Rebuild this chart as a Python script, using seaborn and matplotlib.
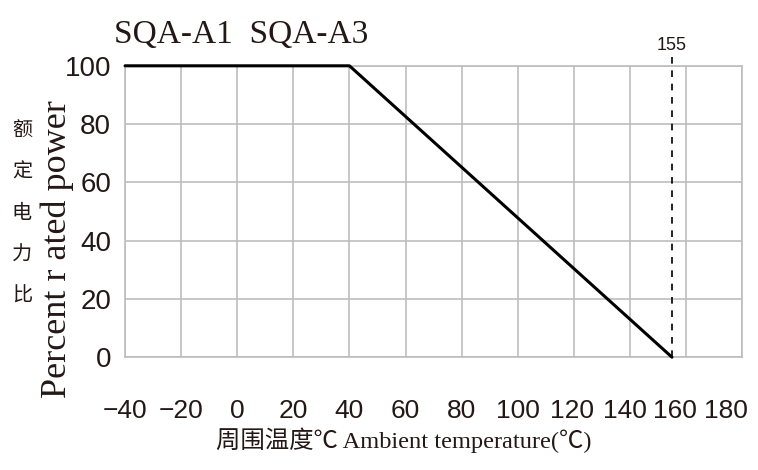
import numpy as np
import pandas as pd
import matplotlib
matplotlib.use("Agg")
import matplotlib.pyplot as plt
import matplotlib.transforms as mtransforms
import seaborn as sns

# derating curve
temps = [-40, 40, 155]
power = [100, 100, 0]
cutoff = 155
x_ticks = [-40, -20, 0, 20, 40, 60, 80, 100, 120, 140, 160, 180]
y_ticks = [0, 20, 40, 60, 80, 100]

sns.set_style("white")
plt.rcParams['font.family'] = ['Liberation Sans', 'Noto Sans CJK SC', 'DejaVu Sans']

df = pd.DataFrame({'temp': temps, 'power': power})

fig = plt.figure(figsize=(7.58, 4.70), dpi=100)
ax = fig.add_axes([0.165, 0.240, 0.814, 0.620])

sns.lineplot(data=df, x='temp', y='power', ax=ax, color='black', linewidth=2.2)
for ln in ax.lines:
    ln.set_clip_on(False)
    ln.set_zorder(5)
ax.plot([cutoff, cutoff], [0, 103], color='black', linestyle=(0, (4, 4)), linewidth=1.2,
        clip_on=False, zorder=4)
ax.text(cutoff, 104, str(cutoff), ha='center', va='bottom', fontsize=13, color='#231815')

ax.set_xlim(-40, 180)
ax.set_ylim(0, 100)
ax.set_xticks(x_ticks)
ax.set_yticks(y_ticks)
ax.grid(True, color='#bdbdbd', linewidth=1.2)
for s in ax.spines.values():
    s.set_color('#bdbdbd')
    s.set_linewidth(1.2)
ax.tick_params(axis='x', length=0, pad=30, labelsize=19, colors='#231815')
ax.tick_params(axis='y', length=0, pad=10, labelsize=20, colors='#231815')
ax.set_xlabel('')
ax.set_ylabel('')

# the right-most labels sit squeezed to the left in the original
shifts = {120: -2, 140: -5, 160: -11, 180: -16}
for lbl, val in zip(ax.get_xticklabels(), x_ticks):
    if val in shifts:
        off = mtransforms.ScaledTranslation(shifts[val] / 100, 0, fig.dpi_scale_trans)
        lbl.set_transform(lbl.get_transform() + off)

serif = ['Liberation Serif', 'Noto Sans CJK SC', 'DejaVu Sans']
ax.text(-0.018, 1.055, 'SQA-A1  SQA-A3', transform=ax.transAxes, ha='left', va='bottom',
        fontsize=24, family=serif, color='#231815')
fig.text(0.075, 0.47, 'Percent r ated power', rotation=90, ha='center', va='center',
         fontsize=26, family=serif, color='#231815')
fig.text(0.029, 0.543, '额\n定\n电\n力\n比', ha='center', va='center', fontsize=14.5,
         linespacing=2.6, family=serif, color='#231815')
fig.text(0.532, 0.063, '周围温度℃ Ambient temperature(℃)', ha='center', va='center',
         fontsize=17.6, family=serif, color='#231815')

fig.savefig('out.png', dpi=100)
